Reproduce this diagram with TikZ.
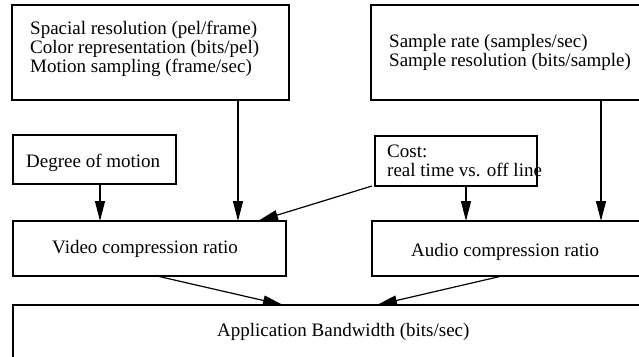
\documentclass[tikz,border=0pt]{standalone}
\usepackage{fontspec}
\setmainfont{Liberation Serif}
\usetikzlibrary{arrows.meta}
\begin{document}
\begin{tikzpicture}[x=1pt,y=-1pt,
  box/.style={draw, line width=1.3pt, anchor=north west, inner sep=0pt, outer sep=0pt},
  txt/.style={anchor=base west, inner sep=0pt, font=\fontsize{19}{19}\selectfont},
  arr/.style={line width=1.2pt, -{Triangle[length=20pt,width=10pt]}, shorten >=0pt}]
\useasboundingbox (0,0) rectangle (639,356);
\clip (0,0) rectangle (639,356);
% boxes
\node[box, minimum width=277pt, minimum height=95pt] (tl) at (12,5) {};
\node[box, minimum width=290pt, minimum height=95pt] (tr) at (371,5) {};
\node[box, minimum width=163pt, minimum height=49pt] (deg) at (13,135) {};
\node[box, minimum width=162pt, minimum height=50pt] (cost) at (375,136) {};
\node[box, minimum width=273pt, minimum height=55pt] (video) at (13,221) {};
\node[box, minimum width=290pt, minimum height=55pt] (audio) at (372,221) {};
\node[box, minimum width=650pt, minimum height=80pt] (app) at (13,305) {};
% texts
\node[txt] (tl1) at (30,34) {Spacial resolution (pel/frame)};
\node[txt] (tl2) at (30,53) {Color representation (bits/pel)};
\node[txt] (tl3) at (30,72) {Motion sampling (frame/sec)};
\node[txt] (tr1) at (389,47) {Sample rate (samples/sec)};
\node[txt] (tr2) at (389,66) {Sample resolution (bits/sample)};
\node[txt] (degt) at (26,167) {Degree of motion};
\node[txt] (cost1) at (387,157) {Cost:};
\node[txt] (cost2) at (387,176) {real time vs. off line};
\node[txt] (videot) at (52,253) {Video compression ratio};
\node[txt] (audiot) at (411,256) {Audio compression ratio};
\node[txt] (appt) at (217,336) {Application Bandwidth (bits/sec)};
% connectors
\draw[arr] ([xshift=87pt]deg.south west) -- ([xshift=87pt]video.north west);
\draw[arr] ([xshift=226pt]tl.south west) -- ([xshift=225pt]video.north west);
\draw[arr] ([xshift=-3pt]cost.south west) -- ([xshift=245pt]video.north west);
\draw[arr] ([xshift=91pt]cost.south west) -- ([xshift=94pt]audio.north west);
\draw[arr] ([xshift=230pt]tr.south west) -- ([xshift=229pt]audio.north west);
\draw[arr] ([xshift=144pt]video.south west) -- ([xshift=270pt]app.north west);
\draw[arr] ([xshift=130pt]audio.south west) -- ([xshift=364pt]app.north west);
\end{tikzpicture}
\end{document}
